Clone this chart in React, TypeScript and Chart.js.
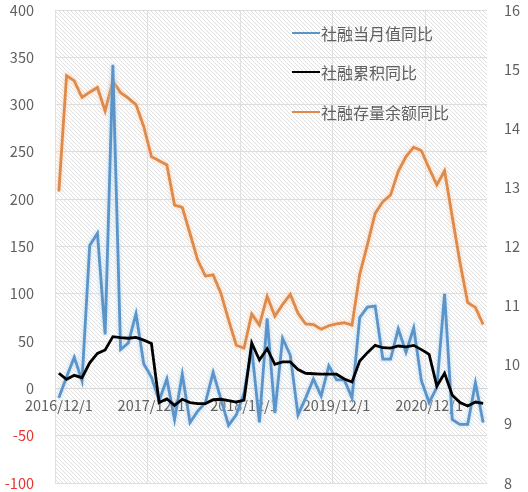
import React, { useEffect, useRef } from 'react';
import { Chart, registerables } from 'chart.js';

Chart.register(...registerables);

const categories = [
  '2016/12/1', '2017/1/1', '2017/2/1', '2017/3/1', '2017/4/1', '2017/5/1', '2017/6/1', '2017/7/1', '2017/8/1', '2017/9/1', '2017/10/1', '2017/11/1',
  '2017/12/1', '2018/1/1', '2018/2/1', '2018/3/1', '2018/4/1', '2018/5/1', '2018/6/1', '2018/7/1', '2018/8/1', '2018/9/1', '2018/10/1', '2018/11/1',
  '2018/12/1', '2019/1/1', '2019/2/1', '2019/3/1', '2019/4/1', '2019/5/1', '2019/6/1', '2019/7/1', '2019/8/1', '2019/9/1', '2019/10/1', '2019/11/1',
  '2019/12/1', '2020/1/1', '2020/2/1', '2020/3/1', '2020/4/1', '2020/5/1', '2020/6/1', '2020/7/1', '2020/8/1', '2020/9/1', '2020/10/1', '2020/11/1',
  '2020/12/1', '2021/1/1', '2021/2/1', '2021/3/1', '2021/4/1', '2021/5/1', '2021/6/1', '2021/7/1',
];

// 社融当月值同比 (left axis)
const monthlyYoY = [
  -10, 12, 33, 8, 151, 164, 57, 342, 41, 48, 79, 26,
  12, -13, 10, -33, 15, -36, -24, -15, 17, -11, -39, -28,
  -5, 42, -36, 74, -26, 53, 35, -28, -10, 10, -8, 24,
  9, 9, -10, 75, 86, 87, 31, 31, 63, 38, 64, 8,
  -15, 1, 100, -33, -38, -38, 6, -36,
];

// 社融累积同比 (left axis)
const cumulativeYoY = [
  16, 9.6, 13.8, 11.3, 27, 37, 40.6, 54.7, 53.7, 53, 54, 51,
  47.5, -15, -11, -18, -11.5, -15, -16, -16, -12, -11.5, -13, -14.5,
  -12.5, 48, 30, 42, 25.5, 28, 28, 20, 16, 15.5, 15, 15,
  15, 10, 6.8, 29, 37.8, 45.5, 43, 42.5, 44.8, 44, 45.5, 41,
  36, 2.5, 16, -7.3, -15, -18.6, -14.4, -15.8,
];

// 社融存量余额同比 (right axis)
const stockYoY = [
  12.93, 14.89, 14.8, 14.52, 14.61, 14.69, 14.29, 14.8, 14.6, 14.51, 14.4, 14.03,
  13.52, 13.45, 13.38, 12.7, 12.66, 12.22, 11.77, 11.5, 11.52, 11.21, 10.76, 10.33,
  10.28, 10.86, 10.67, 11.16, 10.82, 11.02, 11.19, 10.87, 10.69, 10.68, 10.6, 10.66,
  10.69, 10.71, 10.67, 11.53, 12.03, 12.56, 12.76, 12.87, 13.27, 13.52, 13.68, 13.62,
  13.32, 13.04, 13.28, 12.5, 11.73, 11.05, 10.97, 10.68,
];

const seriesNames = ['社融当月值同比', '社融累积同比', '社融存量余额同比'];
const seriesColors = ['#5b94c8', '#000000', '#dd8a4b'];
const glowColors = ['rgba(175,208,236,0.9)', '', 'rgba(249,200,165,0.95)'];

const leftAxis = { min: -100, max: 400, step: 50 };
const rightAxis = { min: 8, max: 16, step: 1 };
const labelEvery = 12;

const FONT = "'Noto Sans CJK SC', 'Noto Sans', sans-serif";
const TEXT = '#606060';

const hatchPlugin = {
  id: 'hatch',
  beforeDraw(chart: any) {
    const { ctx, chartArea: a } = chart;
    if (!a) return;
    const p = document.createElement('canvas');
    p.width = 4;
    p.height = 4;
    const pc = p.getContext('2d')!;
    pc.fillStyle = '#ffffff';
    pc.fillRect(0, 0, 4, 4);
    pc.strokeStyle = '#e0e0e0';
    pc.lineWidth = 1;
    pc.beginPath();
    pc.moveTo(-1, -1);
    pc.lineTo(5, 5);
    pc.moveTo(-1, 3);
    pc.lineTo(1, 5);
    pc.moveTo(3, -1);
    pc.lineTo(5, 1);
    pc.stroke();
    const pattern = ctx.createPattern(p, 'repeat');
    ctx.save();
    ctx.fillStyle = pattern;
    ctx.fillRect(a.left, a.top, a.right - a.left, a.bottom - a.top);
    ctx.restore();
  },
};

const glowPlugin = {
  id: 'glow',
  beforeDatasetDraw(chart: any, args: any) {
    const g = glowColors[args.index];
    if (g) {
      const ctx = chart.ctx;
      ctx.save();
      ctx.shadowColor = g;
      ctx.shadowBlur = 4;
    }
  },
  afterDatasetDraw(chart: any, args: any) {
    if (glowColors[args.index]) chart.ctx.restore();
  },
};

export default function App() {
  const ref = useRef<HTMLCanvasElement | null>(null);

  useEffect(() => {
    if (!ref.current) return;
    const chart = new Chart(ref.current, {
      type: 'line',
      data: {
        labels: categories,
        datasets: [
          {
            label: seriesNames[0],
            data: monthlyYoY,
            yAxisID: 'y',
            borderColor: seriesColors[0],
            borderWidth: 2.8,
            pointRadius: 0,
            tension: 0,
            order: 2,
          },
          {
            label: seriesNames[1],
            data: cumulativeYoY,
            yAxisID: 'y',
            borderColor: seriesColors[1],
            borderWidth: 2.8,
            pointRadius: 0,
            tension: 0,
            order: 1,
          },
          {
            label: seriesNames[2],
            data: stockYoY,
            yAxisID: 'y1',
            borderColor: seriesColors[2],
            borderWidth: 2.8,
            pointRadius: 0,
            tension: 0,
            order: 3,
          },
        ],
      },
      options: {
        responsive: false,
        animation: false,
        layout: { padding: { top: 10, bottom: 9, left: 0, right: 0 } },
        plugins: {
          legend: { display: false },
          tooltip: { enabled: false },
        },
        scales: {
          x: {
            type: 'category',
            position: { y: 0 } as any,
            offset: true,
            grid: {
              offset: true,
              drawTicks: false,
              lineWidth: 1,
              color: (c: any) =>
                typeof c.index === 'number' && c.index % labelEvery === 0 ? '#e0e0e0' : 'rgba(0,0,0,0)',
            },
            border: { display: true, color: '#d6d6d6', width: 1 },
            ticks: {
              autoSkip: false,
              maxRotation: 0,
              minRotation: 0,
              padding: 8,
              color: TEXT,
              font: { family: FONT, size: 14.5 },
              callback: (_v: any, i: number) => (i % labelEvery === 0 ? categories[i] : ''),
            },
            afterFit: (s: any) => {
              s.height = 0;
            },
          },
          y: {
            position: 'left',
            min: leftAxis.min,
            max: leftAxis.max,
            grid: {
              color: '#dedede',
              drawTicks: true,
              tickLength: 21,
              tickColor: 'rgba(0,0,0,0)',
              lineWidth: 1,
            },
            border: { display: false },
            ticks: {
              stepSize: leftAxis.step,
              padding: 0,
              color: (c: any) => (c.tick && c.tick.value < 0 ? '#e8332f' : TEXT),
              font: { family: FONT, size: 14.5 },
            },
            afterFit: (s: any) => {
              s.width = 55;
            },
          },
          y1: {
            position: 'right',
            min: rightAxis.min,
            max: rightAxis.max,
            grid: {
              display: true,
              drawOnChartArea: false,
              drawTicks: true,
              tickLength: 17,
              tickColor: 'rgba(0,0,0,0)',
              color: 'rgba(0,0,0,0)',
            },
            border: { display: false },
            ticks: {
              stepSize: rightAxis.step,
              padding: 0,
              color: TEXT,
              font: { family: FONT, size: 14.5 },
            },
            afterFit: (s: any) => {
              s.width = 41;
            },
          },
        },
      },
      plugins: [hatchPlugin, glowPlugin],
    });
    return () => chart.destroy();
  }, []);

  const legendTops = [33, 72, 112];

  return (
    <div style={{ position: 'absolute', left: 0, top: 0, width: 528, height: 492, background: '#fff' }}>
      <canvas ref={ref} width={528} height={492} style={{ display: 'block', width: 528, height: 492 }} />
      {seriesNames.map((name, i) => (
        <div
          key={name}
          style={{
            position: 'absolute',
            left: 292,
            top: legendTops[i] - 11,
            height: 22,
            display: 'flex',
            alignItems: 'center',
            fontFamily: FONT,
            fontSize: 16,
            color: TEXT,
            whiteSpace: 'nowrap',
          }}
        >
          <span
            style={{
              display: 'inline-block',
              width: 28,
              height: 2.5,
              background: seriesColors[i],
              marginRight: 1,
            }}
          />
          <span>{name}</span>
        </div>
      ))}
    </div>
  );
}
